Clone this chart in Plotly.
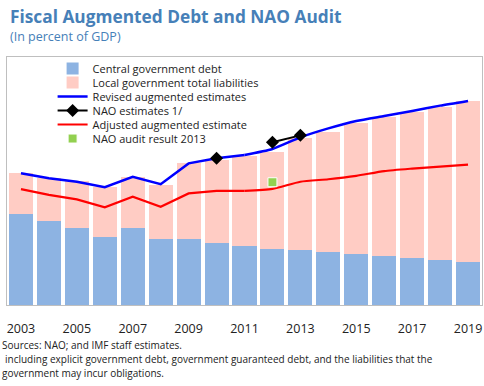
import plotly.graph_objects as go

years = [str(y) for y in range(2003, 2020)]

central_debt = [36.8, 33.8, 30.9, 27.4, 30.9, 26.5, 26.5, 25.1, 23.8, 22.6, 22.2, 21.4, 20.6, 19.8, 19.0, 18.1, 17.5]
local_liabilities = [16.3, 17.3, 19.2, 20.1, 20.9, 21.9, 30.6, 33.4, 36.1, 39.2, 45.0, 48.5, 52.9, 56.1, 58.9, 61.9, 64.8]
revised_augmented = [53.1, 51.1, 49.7, 47.5, 51.7, 48.7, 57.1, 59.2, 60.5, 62.9, 67.6, 71.2, 74.2, 76.2, 78.2, 80.4, 82.3]
nao_estimates = [None, None, None, None, None, None, None, 59.2, None, 65.6, 68.4, None, None, None, None, None, None]
adjusted_augmented = [46.7, 44.4, 42.6, 39.4, 43.7, 39.6, 45.0, 46.0, 46.0, 46.8, 49.7, 50.7, 52.1, 54.0, 55.0, 55.8, 56.6]
nao_audit_2013 = [None, None, None, None, None, None, None, None, None, 49.5, None, None, None, None, None, None, None]

tick_years = years[::2]

FONT = "Open Sans"
TITLE_COLOR = "#4680B8"
split = 8  # early years drawn straight, later years smoothed

# legend entries alternate between two legends so rows can sit closer together
fig = go.Figure()
fig.add_trace(go.Bar(x=years, y=central_debt, name="Central government debt",
                     legend="legend", legendgroup="cg",
                     marker=dict(color="rgb(141,179,226)", line=dict(width=0))))
fig.add_trace(go.Bar(x=years, y=local_liabilities, name="Local government total liabilities",
                     legend="legend2", legendgroup="lg",
                     marker=dict(color="rgb(255,204,196)", line=dict(width=0))))
fig.add_trace(go.Scatter(x=years[:split + 1], y=revised_augmented[:split + 1], mode="lines",
                         name="Revised augmented estimates", legend="legend", legendgroup="rev",
                         line=dict(color="#0000FF", width=2.5)))
fig.add_trace(go.Scatter(x=years[split:], y=revised_augmented[split:], mode="lines",
                         legend="legend", legendgroup="rev", showlegend=False,
                         line=dict(color="#0000FF", width=2.5, shape="spline", smoothing=0.6)))
fig.add_trace(go.Scatter(x=years, y=nao_estimates, mode="lines+markers", name="NAO estimates 1/",
                         legend="legend2", legendgroup="nao",
                         line=dict(color="black", width=2),
                         marker=dict(symbol="diamond", size=10, color="black")))
fig.add_trace(go.Scatter(x=years[:split + 1], y=adjusted_augmented[:split + 1], mode="lines",
                         name="Adjusted augmented estimate", legend="legend", legendgroup="adj",
                         line=dict(color="#FF0000", width=2.2)))
fig.add_trace(go.Scatter(x=years[split:], y=adjusted_augmented[split:], mode="lines",
                         legend="legend", legendgroup="adj", showlegend=False,
                         line=dict(color="#FF0000", width=2.2, shape="spline", smoothing=0.6)))
fig.add_trace(go.Scatter(x=years, y=nao_audit_2013, mode="markers", name="NAO audit result 2013",
                         legend="legend2", legendgroup="audit",
                         marker=dict(symbol="square", size=9, color="#92D050",
                                     line=dict(color="white", width=1))))

legend_style = dict(xanchor="left", yanchor="top", traceorder="grouped",
                    bgcolor="rgba(0,0,0,0)", font=dict(size=11, color="#222222"),
                    tracegroupgap=9, itemwidth=30)

fig.update_layout(
    width=484, height=386,
    margin=dict(l=7, r=2, t=57, b=81),
    paper_bgcolor="white", plot_bgcolor="white",
    barmode="stack", bargap=0.14,
    font=dict(family=FONT, color="#222222"),
    showlegend=True,
    legend=dict(x=0.096, y=1.012, **legend_style),
    legend2=dict(x=0.096, y=0.9555, **legend_style),
    xaxis=dict(type="category", range=[-0.5, len(years) - 0.5],
               tickmode="array", tickvals=tick_years, ticktext=tick_years,
               showline=True, linecolor="#BFBFBF", linewidth=1, mirror=True,
               ticks="", showgrid=False, ticklabelstandoff=12,
               tickfont=dict(size=12.5, color="#222222")),
    yaxis=dict(range=[0, 100], showticklabels=False, showgrid=False, zeroline=False,
               showline=True, linecolor="#BFBFBF", linewidth=1, mirror=True, ticks=""),
    annotations=[
        dict(text="<b>Fiscal Augmented Debt and NAO Audit</b>", xref="paper", yref="paper",
             x=0.002, y=1.165, xanchor="left", yanchor="middle", showarrow=False,
             font=dict(size=17.3, color=TITLE_COLOR, family=FONT)),
        dict(text="(In percent of GDP)", xref="paper", yref="paper",
             x=0.002, y=1.081, xanchor="left", yanchor="middle", showarrow=False,
             font=dict(size=12.5, color=TITLE_COLOR, family=FONT)),
        dict(text="Sources: NAO; and IMF staff estimates.", xref="paper", yref="paper",
             x=0, xshift=-7, y=-0.161, xanchor="left", yanchor="middle", showarrow=False,
             font=dict(size=10, color="#222222", family=FONT)),
        dict(text="including explicit government debt, government guaranteed debt, and the liabilities that the",
             xref="paper", yref="paper",
             x=0, xshift=-4, y=-0.218, xanchor="left", yanchor="middle", showarrow=False,
             font=dict(size=10, color="#222222", family=FONT)),
        dict(text="government may incur obligations.", xref="paper", yref="paper",
             x=0, xshift=-7, y=-0.274, xanchor="left", yanchor="middle", showarrow=False,
             font=dict(size=10, color="#222222", family=FONT)),
    ],
)

fig.write_html("out.html", config={"displayModeBar": False},
               post_script="document.body.style.margin = '0px';")
